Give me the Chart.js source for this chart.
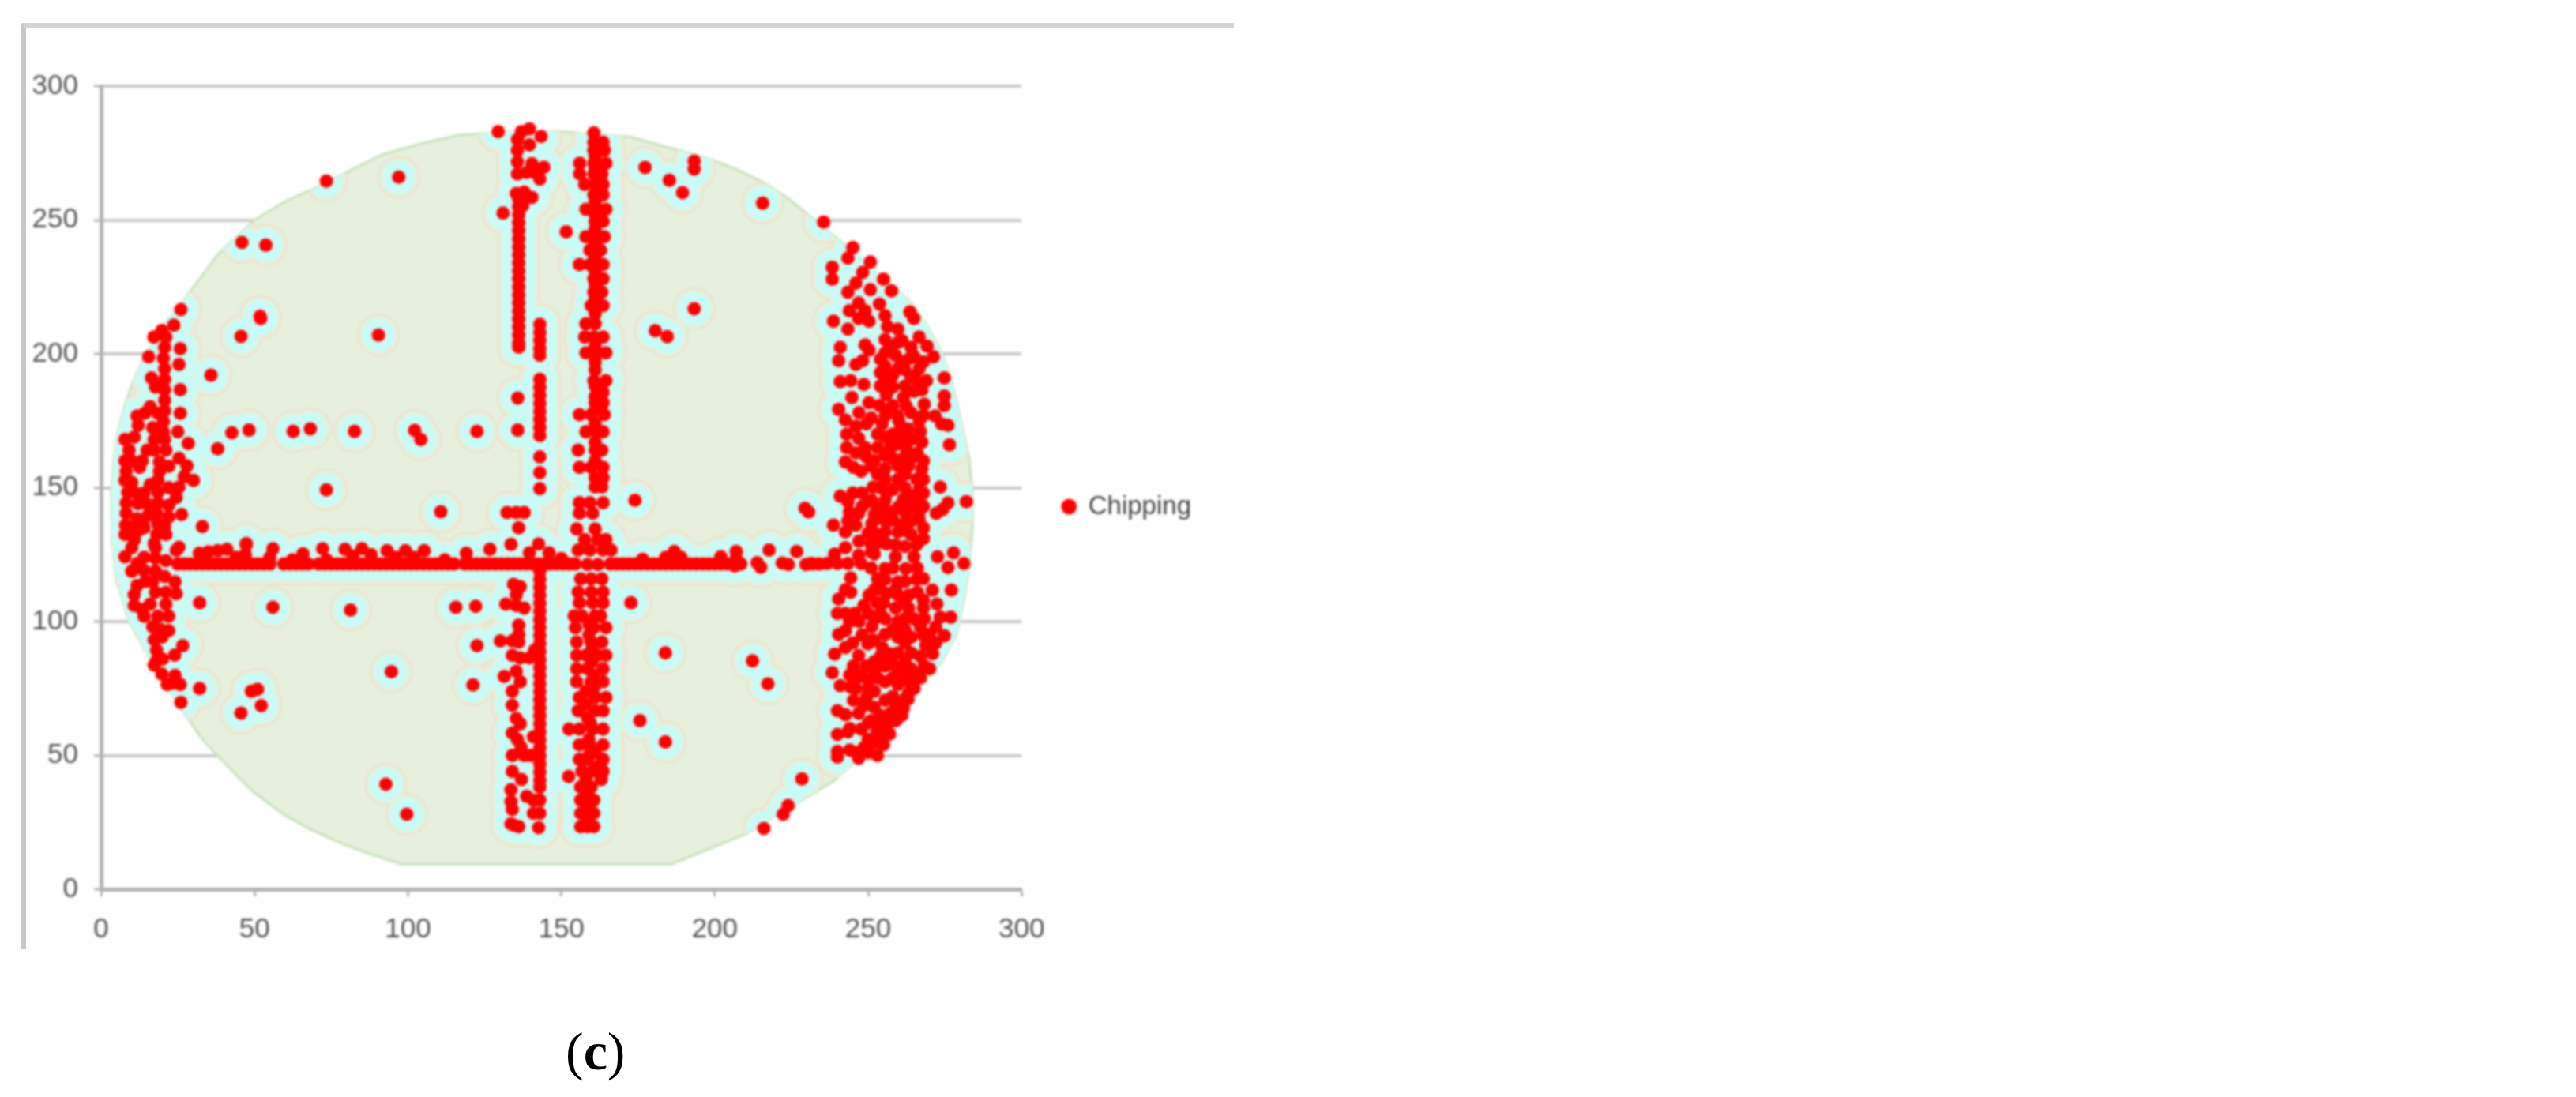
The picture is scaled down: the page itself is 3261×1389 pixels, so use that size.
<!DOCTYPE html>
<html>
<head>
<meta charset="utf-8">
<title>Chipping map</title>
<script src="https://cdn.jsdelivr.net/npm/chart.js@4/dist/chart.umd.min.js"></script>
<style>
    html, body { margin: 0; background: #fff; }
    body { position: relative; width: 3261px; height: 1389px; overflow: hidden; }
    #frame { position: absolute; left: 26px; top: 29px; width: 1536px; height: 1172px;
        border-top: 7px solid #d4d4d4; border-left: 7px solid #c8c8c8; box-sizing: border-box; }
    #wafer-chart { position: absolute; left: 0; top: 0; filter: blur(1.4px); }
    #caption { position: absolute; left: 716px; top: 1291px; font: 68px/80px "Liberation Serif", serif; color: #000; }
    #caption b { font-weight: bold; }
</style>
</head>
<body>
<div id="frame"></div>
<canvas id="wafer-chart" width="1518" height="1389"></canvas>
<div id="caption">(<b>c</b>)</div>
<script>
const xTicks = [0, 50, 100, 150, 200, 250, 300];
const yTicks = [0, 50, 100, 150, 200, 250, 300];
const legendLabel = 'Chipping';

// outline of the wafer
const waferOutline = [
    [150.7, 283], [160, 282], [172.7, 281], [185, 277], [197.6, 273], [207, 269], [216, 264], [224, 258], [231, 251.5],
    [240, 243], [247, 236.5], [253.4, 230], [259, 224.5], [264, 219], [269, 211], [273.6, 201.4], [276, 194], [277.6, 188],
    [280, 176], [282.8, 162], [284, 149], [284, 135], [282.8, 118.8], [281, 107], [278.8, 95], [274, 85], [268, 76.7],
    [258, 63], [248, 50], [238.3, 40], [225, 31], [210.7, 21], [198, 15], [185.8, 9.4], [98, 9.4], [88, 13], [78.6, 17],
    [68, 22.5], [59, 28.3], [49, 37], [40.6, 46.7], [33, 56], [27.5, 65], [20, 78], [14, 90], [9, 100], [6.5, 110], [5, 115],
    [3.5, 130], [3.3, 149], [4, 160], [5.2, 170], [7.5, 180], [10.5, 190], [15, 201], [20, 210], [27.5, 221], [38, 237],
    [50, 250], [60, 257], [72, 263], [82, 269], [91.7, 274.5], [104, 278.5], [116.6, 281.7], [133, 283], [150.7, 283],
];

const scattered = [
    [129.4, 283], [73.4, 264.5], [97, 266], [45.9, 241.6], [53.7, 240.6], [131, 252.6], [151.6, 245.6], [26, 216.5],
    [51.8, 214], [45.6, 206.5], [90.4, 207], [35.8, 192], [135.8, 183.5], [135.8, 171.5], [42.6, 170.5], [48.2, 171.5],
    [38, 164.5], [62.6, 171], [68.2, 172], [82.6, 171], [102.2, 171.4], [104.2, 168], [122.5, 171], [73.4, 149.2],
    [110.7, 141], [26.2, 140], [33, 135.5], [177.3, 269.6], [193.3, 272], [193.3, 269], [185.2, 264.8], [189.5, 260.2],
    [215.6, 256.3], [235.5, 249.2], [193.3, 216.8], [180.6, 208.6], [184.5, 206.4], [174, 145.3], [229.4, 142.3],
    [32.1, 107], [56, 105.3], [81.3, 104.3], [115.6, 105.3], [122.1, 105.7], [122.5, 91], [94.6, 81.3], [121.2, 76.3],
    [32.1, 75], [26, 69.8], [51, 74.7], [49, 74], [52.2, 68.6], [45.6, 65.8], [92.8, 39.2], [99.6, 28], [26.6, 91],
    [24, 87.5], [183.9, 88.3], [212.3, 85.3], [217.3, 76.7], [175.6, 63], [183.9, 55], [228.4, 41.2], [223.9, 31.3],
    [222.3, 28], [216, 22.7], [172.7, 107], [152.4, 42.1], [136.1, 135], [155, 134.6], [238.7, 136], [133.6, 128.8],
    [25.8, 201.9], [52, 213.2], [47.3, 129.1], [230.6, 140.9],
];

const horizontalRow = [
    [25, 121.5], [27, 121.5], [29, 121.5], [31, 121.5], [33, 121.5], [35, 121.5], [37, 121.5], [39, 121.5],
    [41, 121.5], [43, 121.5], [45, 121.5], [47, 121.5], [49, 121.5], [51, 121.5], [53, 121.5], [55, 121.5],
    [59.5, 121.5], [61.5, 121.5], [63.5, 121.5], [65.5, 121.5], [67.5, 121.5], [71, 121.5], [73, 121.5], [75, 121.5],
    [77, 121.5], [79, 121.5], [81, 121.5], [83, 121.5], [85, 121.5], [87, 121.5], [89, 121.5], [91, 121.5],
    [93, 121.5], [95, 121.5], [97, 121.5], [99, 121.5], [101, 121.5], [103, 121.5], [105, 121.5], [107, 121.5],
    [109, 121.5], [111, 121.5], [113, 121.5], [115, 121.5], [118.5, 121.5], [120.5, 121.5], [122.5, 121.5],
    [124.5, 121.5], [126.5, 121.5], [128.5, 121.5], [130.5, 121.5], [132.5, 121.5], [134.5, 121.5], [136.5, 121.5],
    [138.5, 121.5], [140.5, 121.5], [142.5, 121.5], [144.5, 121.5], [146.5, 121.5], [148.5, 121.5], [150.5, 121.5],
    [152.5, 121.5], [154.5, 121.5], [166, 121.5], [168, 121.5], [170, 121.5], [172, 121.5], [174, 121.5], [176, 121.5],
    [178, 121.5], [180, 121.5], [182, 121.5], [184, 121.5], [186, 121.5], [188, 121.5], [190, 121.5], [192, 121.5],
    [194, 121.5], [196, 121.5], [198, 121.5], [200, 121.5], [202, 121.5], [204, 121.5], [206.5, 120.8], [208.5, 121.5],
    [213.8, 122], [215, 120.3], [222, 121.8], [224, 121.3], [229.7, 121.3], [232, 121.5], [234, 121.5],
];

const horizontalBumps = [
    [25.4, 127.7], [32, 125.5], [35, 126], [38, 126.5], [41, 127], [44, 124], [47.3, 128.6], [47, 125],
    [56, 127.2], [55, 124], [65.8, 125.3], [62.3, 123], [72.2, 127.2], [73.5, 123], [79.5, 127], [85, 127.2],
    [82, 124.5], [88, 125], [93.2, 126.5], [99.2, 126.5], [105.3, 126.5], [96, 124], [102, 124], [112, 123],
    [119, 125.5], [126.7, 127], [139.6, 125.7], [142.6, 129], [146, 125.7], [150, 123.5], [186.8, 126.2], [184, 124],
    [189, 124], [207, 126.2], [207, 123.5], [176.5, 123.2], [202, 124.2], [217.7, 126.7], [226.7, 126.2],
];

const leftColumnTop = [
    [139.6, 284], [137, 283], [143.4, 281.2], [135.7, 280], [135.7, 276], [139.6, 278], [135.7, 271.7], [140.4, 271],
    [144.3, 269.7], [135.7, 267.2], [138.7, 267.7], [143, 265.3], [141.3, 267.7], [135.3, 259.9], [137.9, 260.4],
    [140.4, 258.4], [137.4, 255.4], [136.1, 258], [136.1, 255], [136.1, 252], [136.1, 249], [136.1, 246], [136.1, 243],
    [136.1, 240], [136.1, 237], [136.1, 234], [136.1, 231], [136.1, 228], [136.1, 225], [136.1, 222], [136.1, 219],
    [136.1, 216], [136.1, 213], [136.1, 210], [136.1, 207], [136.1, 204], [136.1, 202.5],
    [143, 211], [143, 208], [143, 205], [143, 202], [143, 199.5], [143, 190.5], [143, 187.5], [143, 184.5],
    [143, 181.5], [143, 178.5], [143, 175.5], [143, 172.5], [143, 169.5], [143, 161.5], [143, 155.6], [143, 149.6],
    [132.3, 140.7], [135.3, 140.7], [137.9, 140.7],
];

const leftColumnBottom = [
    [143, 118.8], [143, 115.8], [143, 112.8], [143, 109.8], [143, 106.8], [143, 103.8], [143, 100.8], [143, 97.8],
    [143, 94.8], [143, 91.8], [143, 88.8], [143, 85.8], [143, 82.8], [143, 79.8], [143, 76.8], [143, 73.8], [143, 70.8],
    [143, 67.8], [143, 64.8], [143, 61.8], [143, 58.8], [143, 55.8], [143, 52.8], [143, 49.8], [143, 46.8], [143, 43.8],
    [143, 40.8], [143, 38.2], [138.7, 34.7], [140.9, 33.3], [143, 33.3], [140.9, 28.4], [143, 28.4], [142.6, 23],
    [133.6, 24.4], [136.1, 23.4], [134.4, 24], [134.4, 113.9], [136.6, 113], [135.3, 110], [131.9, 106.5], [135.3, 106],
    [137.9, 105], [136.1, 98.7], [136.1, 95.2], [130.1, 92.8], [134, 92.8], [136.1, 92.3], [134, 87.4], [136.6, 86.4],
    [139.6, 86.4], [141.3, 89.3], [135.3, 81.4], [131.4, 79.5], [136.6, 77.5], [134, 74], [134, 68.7], [135.3, 63.8],
    [136.6, 61.8], [134, 58.3], [135.7, 55.9], [136.9, 53], [134, 50], [137.9, 50], [140, 50], [140.9, 56.9], [134, 44],
    [137, 41], [133.6, 37.2], [133.6, 32.8], [134, 29.8],
];

const mainColumnUpper = [
    [160.6, 282.5], [160.6, 279], [163.6, 279], [160.6, 276], [164, 276], [156, 271.2], [160.6, 271.2], [164.5, 271.2],
    [156, 267.2], [160.6, 267.2], [163.2, 267.2], [157.6, 263.3], [161, 263.3], [163.6, 263.3], [160.6, 259.4],
    [163.6, 259.4], [158, 254], [161.9, 254], [164.5, 254], [161, 249.5], [163.6, 249.5], [158, 243.7], [161.9, 243.7],
    [164, 243.7], [159.3, 238.7], [162.8, 238.7], [155.9, 233.3], [159.3, 233.3], [163.6, 233.3], [160.6, 228],
    [163.6, 228], [160.6, 223], [163.2, 223], [159.7, 218], [163.6, 218], [158, 211.2], [161, 211.2], [157.6, 206.3],
    [160.6, 206.3], [163.6, 206.3], [158, 200.4], [161.9, 200.4], [164.5, 200.4], [161, 197], [160.6, 190], [164.5, 190],
    [161.9, 185.6], [163.6, 185.6], [161, 181.7], [163.6, 181.7], [155.9, 177.3], [159.7, 177.3], [164, 177.3],
    [158, 170.9], [161.5, 170.9], [163.6, 170.9], [155.5, 164], [161, 164], [163.2, 164], [155.9, 157.6], [159.7, 157.6],
    [163.6, 157.6],
    [161, 274], [161, 269], [161, 257], [161, 252], [161, 246.5], [161, 241], [161, 236], [161, 231], [161, 226], [161, 221],
    [161, 215], [161, 203], [161, 194], [161, 188], [161, 184], [161, 179], [161, 174], [161, 167], [161, 160],
];

const mainColumnLower = [
    [161, 153.7], [163.6, 153.7], [161, 150.3], [163.2, 150.3], [155.9, 144.4], [159.3, 144.4], [163.6, 144.4],
    [155.9, 140.5], [160.2, 140.5], [161, 134.6], [157.6, 130.6], [161.9, 130.6], [164.5, 130.6], [155.5, 126.7],
    [159.3, 126.7], [163.6, 126.7], [166.2, 126.7], [158.5, 121.3], [161.9, 121.3], [156.3, 115.9], [159.7, 115.9],
    [163.2, 115.9], [155.5, 111], [159.7, 111], [163.6, 111], [155.9, 107], [160.2, 107], [163.6, 107], [154.2, 102.1],
    [156.7, 102.1], [161, 102.1], [162.8, 102.1], [154.6, 97.7], [160.6, 97.7], [164.5, 97.7], [155, 92.3], [159.7, 92.3],
    [163.2, 92.3], [155, 87.4], [158, 87.4], [161.9, 87.4], [164.5, 87.4], [155, 82.4], [158.5, 82.4], [163.6, 82.4],
    [155, 77.5], [159.7, 77.5], [163.6, 77.5], [155.9, 71.6], [161, 71.6], [164.5, 71.6], [155.5, 66.7], [161, 66.7],
    [163.6, 66.7], [152.5, 59.8], [155.9, 59.8], [160.2, 59.8], [163.6, 59.8], [155.9, 53.9], [159.3, 53.9], [163.6, 53.9],
    [155.9, 48.5], [158.5, 48.5], [163.6, 48.5], [156.7, 44.1], [160.2, 44.1], [163.6, 44.1], [156.3, 38.2], [159.7, 38.2],
    [156.3, 33.3], [160.6, 33.3], [156.3, 28.4], [160.6, 28.4], [156.3, 23.4], [158.5, 23.4], [160.6, 23.4],
    [159, 99], [159, 95], [160, 90], [160, 85], [160.5, 80], [160.5, 75], [158, 74], [158, 69], [158.5, 64], [159.5, 62],
    [159, 56], [161, 51], [159, 50], [162, 46], [158, 41], [163, 41], [158.5, 36], [158.5, 31], [158.5, 26],
];

const leftBandUpper = [
    [23.7, 210.7], [19.8, 208.7], [17.2, 206.3], [21.1, 206.3], [20.7, 202.4], [15.5, 198.9], [20.3, 198.4], [25.4, 196],
    [20.7, 194.5], [16.4, 191], [20.7, 190.5], [25.8, 186.6], [17.7, 187.6], [20.7, 186.6], [20.7, 182.7], [16, 180.2],
    [20.7, 178.8], [25.8, 177.8], [11.7, 176.8], [14.2, 177.8], [18.5, 177.8], [20.3, 174.8], [12.1, 173.3], [16.8, 172.4],
    [25, 170.9], [20.3, 170.9], [7.8, 168], [10.8, 168.9], [17.3, 168], [20.7, 168], [28.4, 166.5], [9.1, 164], [17.3, 164],
    [21.1, 164], [7.8, 160], [13.4, 160], [12.5, 157.6], [19, 159.6], [25.4, 161], [28, 158.1], [8.2, 156.1], [19, 156.1],
    [7.8, 152.7], [30.1, 152.7], [18.5, 152.7], [27.1, 154.2], [16, 151.2], [25.4, 150.2], [8.7, 148.3], [11.7, 147.8],
    [18.5, 148.3], [24.5, 146.3], [8.2, 144.3], [15.1, 143.8], [18.5, 144.3], [22, 143.4], [8.2, 140.4], [18.1, 140.4],
    [11.7, 138.4], [15.1, 139.4], [18.5, 136.5], [20.7, 135.5], [7.8, 132.5], [10.8, 130.6], [18.1, 132.5], [21.1, 132.5],
    [17.3, 129.1], [14, 135], [12, 134], [10, 160], [10, 152], [14, 148], [12, 144], [8, 136], [11, 135], [15, 164], [22, 158],
    [22, 150], [22, 139],
];

const leftBandLower = [
    [10, 127.6], [17.7, 127.6], [7.8, 124.2], [11.7, 121.7], [17.7, 123.7], [21.1, 122.7], [24.5, 126.6], [10, 118.8],
    [17.7, 118.8], [11.7, 113.4], [16.8, 114.8], [24.1, 114.8], [20.7, 116.8], [10.8, 106], [10.8, 110], [17.7, 110.9],
    [24.5, 110.4], [21.1, 110.9], [16, 106.5], [21.1, 106.5], [13.4, 104.5], [18.5, 102], [22, 102], [16.8, 98.1], [22, 96.6],
    [19.4, 97.1], [17.3, 93.2], [19.8, 94.2], [18.1, 89.3], [18.1, 85.3], [17.3, 83.8], [19.8, 80.4], [21.5, 76.5],
    [24.1, 79.9], [25.8, 76.5], [23.3, 77], [14, 124], [14, 119], [14.5, 115], [14, 102], [20, 86],
];

const rightBandUpper = [
    [245, 239.7], [243.4, 235.8], [250.7, 234.3], [238.3, 232.3], [238.3, 227.9], [248.2, 230.4], [255, 227.9], [246, 226.4],
    [257.6, 223.5], [243.4, 223], [250.7, 224], [246.9, 219], [243.9, 216.1], [249, 216.1], [253.7, 218.6], [255.5, 214.2],
    [263.6, 215.6], [264.9, 213.2], [238.7, 212.2], [246.9, 213.2], [250.3, 212.2], [256.3, 210.2], [259.7, 209.2],
    [243.4, 209.2], [266.6, 206.3], [255.5, 205.3], [259.7, 204.3], [240.9, 202.4], [269.2, 202.9], [249, 203.3],
    [264, 202.4], [255.5, 200.4], [258.9, 199.4], [240.4, 197.4], [248.2, 197.4], [250.3, 201.4], [246, 196], [263.6, 198.4],
    [271.3, 198.9], [255.5, 195.5], [259.7, 194.5], [266.6, 194.5], [274.8, 191], [240.9, 189.6], [244.3, 190], [248.6, 188.6],
    [255.5, 190.5], [258, 187.6], [264, 191.5], [267.5, 186.6], [255.9, 184.7], [261.5, 183.7], [244.7, 183.7], [274.8, 184.2],
    [274.8, 180.7], [240.4, 179.3], [250.3, 181.7], [253.7, 180.7], [258, 180.7], [262.3, 180.7], [268.3, 181.2],
    [242.6, 175.3], [271.8, 176.8], [255.5, 176.8], [259.7, 176.8], [266.6, 174.8], [276, 173.3], [273.9, 173.8], [246, 172.9],
    [254.6, 173.8], [260.6, 172.9], [249.4, 173.8], [246.9, 168.4], [255.5, 168.9], [261.5, 168.9], [267.5, 167], [243, 165],
    [276.5, 166], [249, 165], [257.2, 165], [262.3, 165], [249.4, 161.5], [255.5, 162], [261.5, 161], [242.6, 159.6],
    [245.2, 157.6], [247.7, 156.1], [255.5, 157.1], [259.7, 158.1], [263.2, 158.1], [267.5, 157.1], [255.5, 153.2],
    [259.7, 153.2], [265.8, 153.2], [273.5, 150.2], [251.6, 150.2], [258, 149.3], [266.6, 149.3], [240.9, 146.8], [243.4, 144.8],
    [251.2, 145.3], [255.5, 145.3], [261.5, 145.8], [266.6, 145.3], [282, 144.8], [276, 144.3], [274.3, 141.9], [272.2, 140.4],
    [243.9, 140.9], [246.9, 140.4], [254.6, 141.4], [262, 141], [258, 141], [266.6, 141], [243.4, 137.5], [251.2, 136.5],
    [256, 137], [262.3, 137.5], [266.6, 138.4],
    [247, 178], [251, 176], [243, 170], [246, 163], [251, 158], [245, 148], [248, 148], [248, 143], [252, 138], [246, 136],
];

const rightBandLower = [
    [249.9, 144.8], [255, 142.4], [264, 142.4], [254.6, 138.4], [264, 137.5], [255.5, 133.5], [259.7, 133.5], [264, 132.5],
    [242.6, 133.5], [253.7, 129.6], [258.9, 128.6], [265.8, 128.6], [242.6, 127.6], [272.6, 124.2], [277.8, 125.7], [281.2, 121.7],
    [276, 120.2], [239.1, 125.2], [246.9, 124.7], [252, 125.2], [258.9, 124.2], [264.9, 124.2], [231.4, 121.7], [236.6, 121.7],
    [240, 121.7], [243.4, 121.7], [247.7, 121.7], [255.5, 119.8], [262.3, 119.8], [244.3, 116.3], [255.5, 115.8], [259.7, 114.8],
    [265.8, 115.8], [270.9, 111.7], [277.1, 111.7], [272.4, 106.5], [252, 111.9], [244.3, 110.9], [240.4, 108.4], [242.6, 111.9],
    [250.3, 109.9], [259.7, 109.9], [263.2, 109.9], [256, 110.5], [240, 103], [242.6, 103], [245.6, 103], [248.6, 106], [252.9, 107],
    [258.9, 105], [263.2, 105], [251.2, 98.1], [255.5, 101], [259.7, 100.1], [264.9, 101], [268.3, 101], [273.5, 101.6], [276.9, 101.6],
    [240.4, 95.2], [274.8, 94.7], [242.6, 96.6], [255.5, 95.2], [259.7, 94.2], [264, 94.2], [270, 95.2], [268.8, 91.2], [239.1, 87.8],
    [242.6, 90.3], [249.9, 91.7], [254.6, 90.3], [259.7, 88.3], [264, 88.3], [246.9, 87.3], [238.3, 80.9], [245.2, 83.4], [249.4, 83.4],
    [255.5, 83.4], [260, 82.5], [264, 82.4], [268.3, 83.4], [270, 82.4], [240.9, 76], [244.3, 75.5], [246.9, 79.4], [255.5, 77.5],
    [259.7, 76.5], [264, 76.5], [245.2, 70.6], [249.4, 71.6], [255.5, 70.6], [261.5, 70.6], [240, 66.7], [242.6, 65.2], [246.9, 65.7],
    [248.6, 68.6], [257.2, 65.7], [261.5, 67.6], [240, 57.8], [243.4, 58.8], [247.7, 59.8], [252.9, 58.8], [256.3, 61.7], [248.6, 52.9],
    [240, 49.4], [240, 51.5], [246.9, 49], [246, 51], [252, 54.9],
    [250, 133], [247, 130], [251, 126], [247, 100], [250, 103], [244, 100], [248, 95], [251, 93], [245, 92], [244, 80], [248, 80],
    [252, 82], [246, 75], [250, 75], [244, 60], [250, 62], [244, 52], [253, 50],
];

// the solid core of the right band, and its lower diagonal edge
const rightBandCore = [
    [257, 203], [261, 205], [265, 199], [268, 197], [254, 198], [261, 197], [254, 193], [258, 192], [262, 194], [266, 190],
    [254, 188], [262, 188], [265, 186], [269, 190], [256, 179], [264, 178], [268, 177], [260, 175], [263, 172], [267, 171],
    [253, 170], [258, 170], [264, 168], [253, 165], [259, 166], [266, 163], [252, 160], [258, 161], [264, 161], [268, 160],
    [253, 155], [262, 155], [268, 153], [254, 150], [262, 150], [256, 148], [264, 147], [268, 148], [253, 142], [260, 143],
    [268, 143], [252, 140], [258, 138], [261, 136], [268, 135], [252, 133], [262, 134], [268, 131], [251, 129], [256, 129],
    [262, 128], [251, 120], [258, 120], [266, 120], [253, 116], [262, 115], [268, 116], [254, 112], [259, 112], [266, 111],
    [255, 107], [262, 108], [268, 108], [254, 103], [262, 101], [268, 105], [252, 101], [258, 97], [262, 97], [267, 98],
    [272, 98], [252, 93], [262, 92], [268, 95], [272, 92], [254, 87], [257, 88], [262, 85], [267, 87], [271, 88],
    [252, 85], [258, 84], [266, 80], [250, 78], [253, 79], [258, 79], [262, 79], [267, 79], [252, 74], [258, 72],
    [263, 73], [265, 75], [252, 68], [259, 68], [263, 71], [251, 63], [254, 65], [259, 63], [261, 65], [254, 61],
    [257, 58], [250, 56], [254, 56], [250, 51], [255, 54],
];

const chipping = [].concat(scattered, horizontalRow, horizontalBumps, leftColumnTop, leftColumnBottom, mainColumnUpper,
    mainColumnLower, leftBandUpper, leftBandLower, rightBandUpper, rightBandLower, rightBandCore);

// halos around the points stay inside the wafer
const waferClip = {
    id: 'waferClip',
    beforeDatasetDraw(chart, args) {
        if (!chart.data.datasets[args.index].clipToWafer) return;
        const { x, y } = chart.scales;
        const ctx = chart.ctx;
        ctx.save();
        ctx.beginPath();
        waferOutline.forEach(p => ctx.lineTo(x.getPixelForValue(p[0]), y.getPixelForValue(p[1])));
        ctx.closePath();
        ctx.clip();
    },
    afterDatasetDraw(chart, args) {
        if (chart.data.datasets[args.index].clipToWafer) chart.ctx.restore();
    },
};

// legend sits a bit above the middle of the box the x axis needs
const legendShift = {
    id: 'legendShift',
    afterLayout(chart) {
        chart.legend.top -= 16;
        chart.legend.bottom -= 16;
    },
};

function haloLayer(color, radius) {
    return { label: 'halo', data: chipping, backgroundColor: color, borderWidth: 0, pointRadius: radius, clipToWafer: true };
}

const gridColor = '#c9c9c9';
const axisColor = '#b4b4b4';
const tickFont = { family: '"Liberation Sans", sans-serif', size: 35 };

new Chart(document.getElementById('wafer-chart'), {
    type: 'scatter',
    data: {
        datasets: [
            { label: legendLabel, data: chipping, backgroundColor: '#ff0000', borderColor: '#ff0000', borderWidth: 0, pointRadius: 8.5, clip: false },
            haloLayer('#c9fcf7', 21),
            haloLayer('#e6f0dc', 25),
            haloLayer('#eedfcd', 27),
            {
                label: 'wafer', data: waferOutline, showLine: true, fill: 'shape', tension: 0, pointRadius: 0,
                backgroundColor: '#e6f0dc', borderColor: '#c8e2bd', borderWidth: 3,
            },
        ],
    },
    options: {
        responsive: false,
        animation: false,
        layout: { padding: { top: 109, bottom: 183, left: 0, right: 0 } },
        plugins: {
            tooltip: { enabled: false },
            legend: {
                position: 'right',
                labels: {
                    filter: item => item.text === legendLabel,
                    usePointStyle: true,
                    pointStyle: 'circle',
                    boxWidth: 16,
                    boxHeight: 14,
                    padding: 52,
                    color: '#444',
                    font: { family: '"Liberation Sans", sans-serif', size: 33 },
                },
            },
        },
        scales: {
            x: {
                type: 'linear',
                min: 0,
                max: 300,
                afterFit: s => { s.height = 80; },
                afterBuildTicks: s => { s.ticks = xTicks.map(v => ({ value: v })); },
                grid: { drawOnChartArea: false, drawTicks: true, tickLength: 9, tickColor: axisColor, tickWidth: 3 },
                border: { color: axisColor, width: 5 },
                ticks: { color: '#555', font: tickFont, padding: 21, maxRotation: 0 },
            },
            y: {
                type: 'linear',
                min: 0,
                max: 300,
                afterFit: s => { s.width = 128; },
                afterBuildTicks: s => { s.ticks = yTicks.map(v => ({ value: v })); },
                grid: { color: gridColor, lineWidth: 4, tickLength: 9, tickColor: axisColor, tickWidth: 3 },
                border: { color: axisColor, width: 5 },
                ticks: { color: '#555', font: tickFont, padding: 20 },
            },
        },
    },
    plugins: [waferClip, legendShift],
});
</script>
</body>
</html>
